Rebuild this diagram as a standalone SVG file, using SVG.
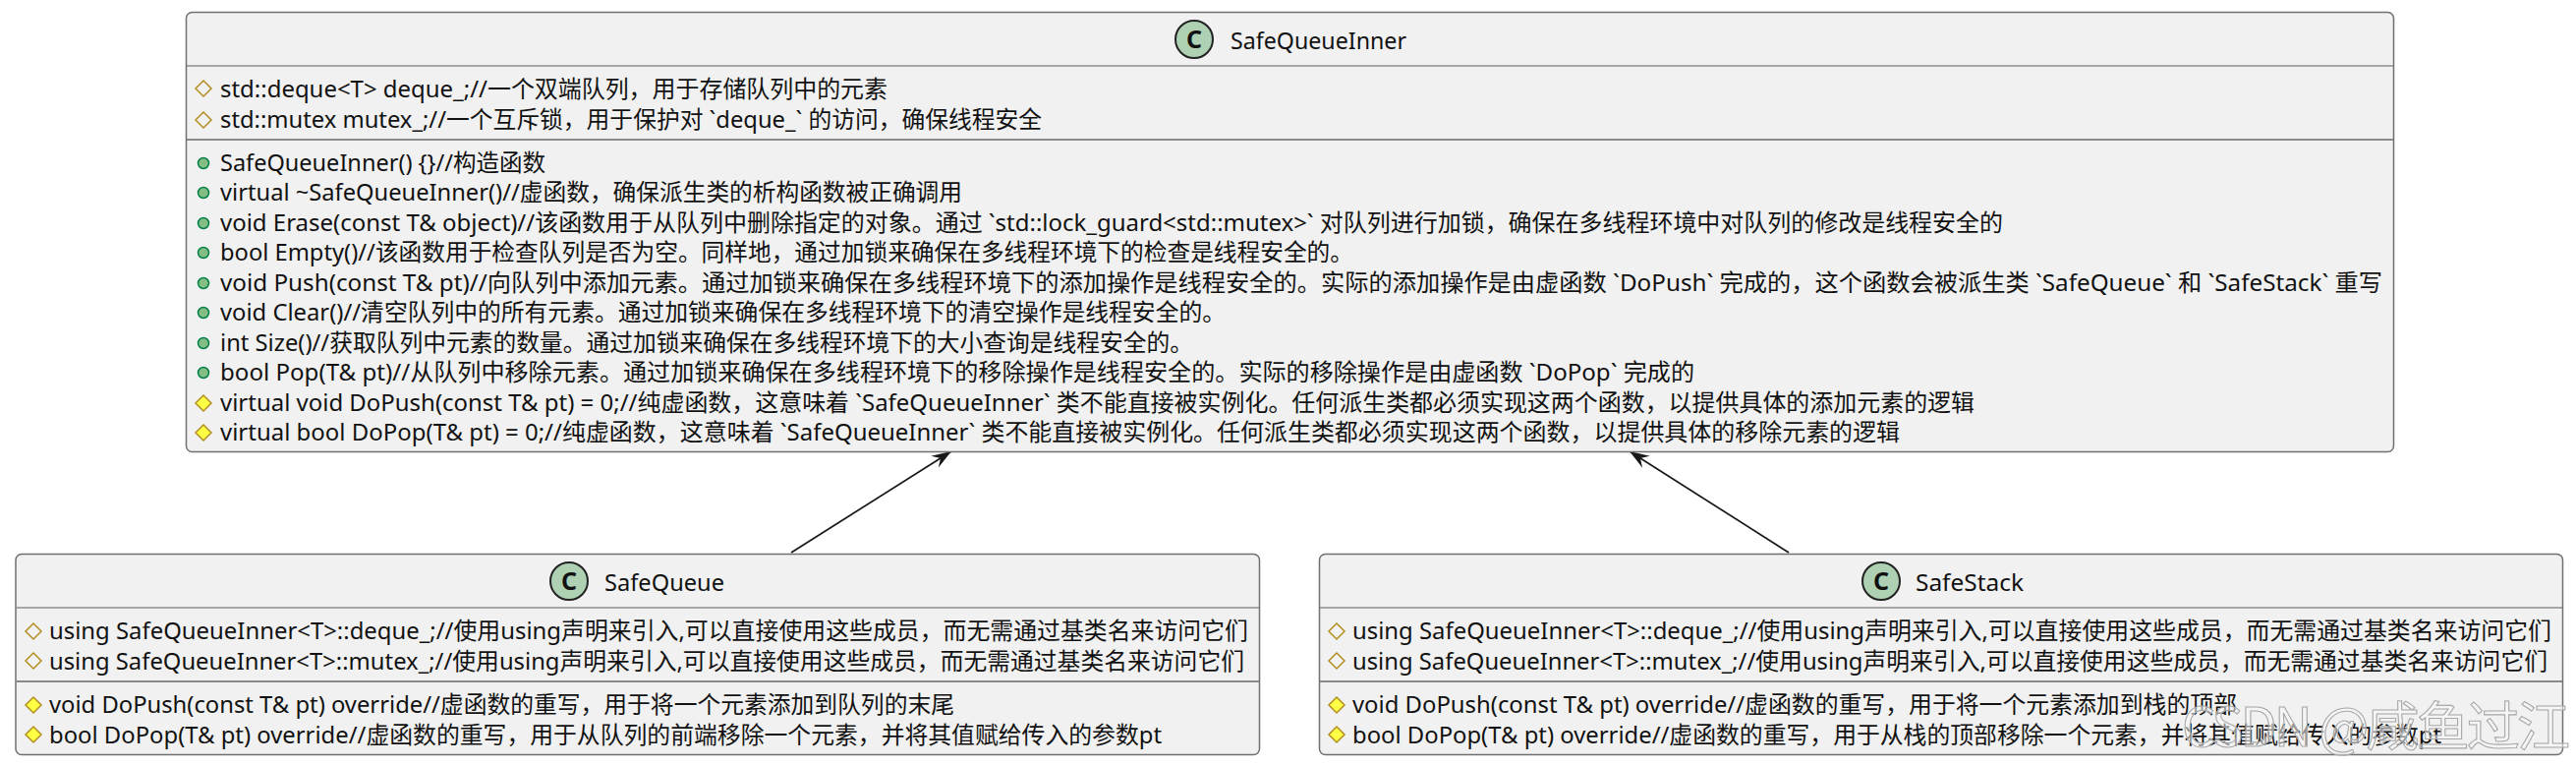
<svg xmlns="http://www.w3.org/2000/svg" width="2621" height="779" viewBox="0 0 2621 779">
<style>
.box{fill:#f1f1f1;stroke:#707070;stroke-width:1.5}
.sep{stroke:#5d5d5d;stroke-width:1.2}
.sep2{stroke:#8a8a8a;stroke-width:2}
.ci{fill:#add1b2;stroke:#222;stroke-width:2}
text{font-family:"Noto Sans","Noto Sans CJK SC",sans-serif;fill:#111}
.m{font-size:24px}
.t{font-size:24px}
.c{font-size:25px;font-weight:700;text-anchor:middle}
.pub{fill:#84be84;stroke:#038048;stroke-width:1.5}
.pa{fill:none;stroke:#b38d22;stroke-width:1.5}
.pm{fill:#ffff44;stroke:#b38d22;stroke-width:1.5}
.wm{font-size:54px;fill:#f8f8f8;fill-opacity:.55;stroke:#a8a8a8;stroke-width:1.1;font-family:"Noto Sans CJK SC",sans-serif}
.l{fill:none;stroke:#181818;stroke-width:1.7}
</style>
<defs>
<path id="di" d="M0 -8L8 0L0 8L-8 0Z"/>
<marker id="arr" viewBox="0 0 20 20" refX="20" refY="10" markerWidth="20" markerHeight="20" markerUnits="userSpaceOnUse" orient="auto"><path d="M0 3L20 10L0 17L7 10Z" fill="#181818"/></marker>
</defs>
<g id="connectors">
<path class="l" d="M805 562L968 459" marker-end="url(#arr)"/>
<path class="l" d="M1820 562L1658 459" marker-end="url(#arr)"/>
</g>
<g id="SafeQueueInner">
<rect class="box" x="189.500" y="12.500" width="2246" height="447" rx="6"/>
<line class="sep" x1="190" y1="67" x2="2435" y2="67"/>
<line class="sep2" x1="190" y1="142" x2="2435" y2="142"/>
<circle class="ci" cx="1215" cy="40" r="19"/>
<text class="c" x="1215" y="49">C</text>
<text class="t" x="1252" y="50" textLength="179" lengthAdjust="spacingAndGlyphs">SafeQueueInner</text>
<use href="#di" class="pa" x="207" y="90"/>
<text class="m" x="224" y="99" textLength="679" lengthAdjust="spacingAndGlyphs">std::deque&lt;T&gt; deque_;//一个双端队列，用于存储队列中的元素</text>
<use href="#di" class="pa" x="207" y="122"/>
<text class="m" x="224" y="130" textLength="836" lengthAdjust="spacingAndGlyphs">std::mutex mutex_;//一个互斥锁，用于保护对 `deque_` 的访问，确保线程安全</text>
<circle class="pub" cx="207" cy="166" r="5.500"/>
<text class="m" x="224" y="174" textLength="331" lengthAdjust="spacingAndGlyphs">SafeQueueInner() {}//构造函数</text>
<circle class="pub" cx="207" cy="196" r="5.500"/>
<text class="m" x="224" y="204" textLength="755" lengthAdjust="spacingAndGlyphs">virtual ~SafeQueueInner()//虚函数，确保派生类的析构函数被正确调用</text>
<circle class="pub" cx="207" cy="227" r="5.500"/>
<text class="m" x="224" y="235" textLength="1814" lengthAdjust="spacingAndGlyphs">void Erase(const T&amp; object)//该函数用于从队列中删除指定的对象。通过 `std::lock_guard&lt;std::mutex&gt;` 对队列进行加锁，确保在多线程环境中对队列的修改是线程安全的</text>
<circle class="pub" cx="207" cy="257" r="5.500"/>
<text class="m" x="224" y="265" textLength="1153" lengthAdjust="spacingAndGlyphs">bool Empty()//该函数用于检查队列是否为空。同样地，通过加锁来确保在多线程环境下的检查是线程安全的。</text>
<circle class="pub" cx="207" cy="288" r="5.500"/>
<text class="m" x="224" y="296" textLength="2200" lengthAdjust="spacingAndGlyphs">void Push(const T&amp; pt)//向队列中添加元素。通过加锁来确保在多线程环境下的添加操作是线程安全的。实际的添加操作是由虚函数 `DoPush` 完成的，这个函数会被派生类 `SafeQueue` 和 `SafeStack` 重写</text>
<circle class="pub" cx="207" cy="318" r="5.500"/>
<text class="m" x="224" y="326" textLength="1023" lengthAdjust="spacingAndGlyphs">void Clear()//清空队列中的所有元素。通过加锁来确保在多线程环境下的清空操作是线程安全的。</text>
<circle class="pub" cx="207" cy="349" r="5.500"/>
<text class="m" x="224" y="357" textLength="990" lengthAdjust="spacingAndGlyphs">int Size()//获取队列中元素的数量。通过加锁来确保在多线程环境下的大小查询是线程安全的。</text>
<circle class="pub" cx="207" cy="379" r="5.500"/>
<text class="m" x="224" y="387" textLength="1500" lengthAdjust="spacingAndGlyphs">bool Pop(T&amp; pt)//从队列中移除元素。通过加锁来确保在多线程环境下的移除操作是线程安全的。实际的移除操作是由虚函数 `DoPop` 完成的</text>
<use href="#di" class="pm" x="207" y="410"/>
<text class="m" x="224" y="418" textLength="1785" lengthAdjust="spacingAndGlyphs">virtual void DoPush(const T&amp; pt) = 0;//纯虚函数，这意味着 `SafeQueueInner` 类不能直接被实例化。任何派生类都必须实现这两个函数，以提供具体的添加元素的逻辑</text>
<use href="#di" class="pm" x="207" y="440"/>
<text class="m" x="224" y="448" textLength="1709" lengthAdjust="spacingAndGlyphs">virtual bool DoPop(T&amp; pt) = 0;//纯虚函数，这意味着 `SafeQueueInner` 类不能直接被实例化。任何派生类都必须实现这两个函数，以提供具体的移除元素的逻辑</text>
</g>
<g id="SafeQueue">
<rect class="box" x="16" y="563.500" width="1265.500" height="204" rx="6"/>
<line class="sep" x1="17" y1="618" x2="1281" y2="618"/>
<line class="sep2" x1="17" y1="693" x2="1281" y2="693"/>
<circle class="ci" cx="579" cy="591" r="19"/>
<text class="c" x="579" y="600">C</text>
<text class="t" x="615" y="601" textLength="122" lengthAdjust="spacingAndGlyphs">SafeQueue</text>
<use href="#di" class="pa" x="34" y="642"/>
<text class="m" x="50" y="650" textLength="1220" lengthAdjust="spacingAndGlyphs">using SafeQueueInner&lt;T&gt;::deque_;//使用using声明来引入,可以直接使用这些成员，而无需通过基类名来访问它们</text>
<use href="#di" class="pa" x="34" y="672"/>
<text class="m" x="50" y="681" textLength="1216" lengthAdjust="spacingAndGlyphs">using SafeQueueInner&lt;T&gt;::mutex_;//使用using声明来引入,可以直接使用这些成员，而无需通过基类名来访问它们</text>
<use href="#di" class="pm" x="34" y="717"/>
<text class="m" x="50" y="725" textLength="921" lengthAdjust="spacingAndGlyphs">void DoPush(const T&amp; pt) override//虚函数的重写，用于将一个元素添加到队列的末尾</text>
<use href="#di" class="pm" x="34" y="747"/>
<text class="m" x="50" y="756" textLength="1132" lengthAdjust="spacingAndGlyphs">bool DoPop(T&amp; pt) override//虚函数的重写，用于从队列的前端移除一个元素，并将其值赋给传入的参数pt</text>
</g>
<g id="SafeStack">
<rect class="box" x="1342.500" y="563.500" width="1265" height="204" rx="6"/>
<line class="sep" x1="1343" y1="618" x2="2607" y2="618"/>
<line class="sep2" x1="1343" y1="693" x2="2607" y2="693"/>
<circle class="ci" cx="1914" cy="591" r="19"/>
<text class="c" x="1914" y="600">C</text>
<text class="t" x="1949" y="601" textLength="110" lengthAdjust="spacingAndGlyphs">SafeStack</text>
<use href="#di" class="pa" x="1360" y="642"/>
<text class="m" x="1376" y="650" textLength="1220" lengthAdjust="spacingAndGlyphs">using SafeQueueInner&lt;T&gt;::deque_;//使用using声明来引入,可以直接使用这些成员，而无需通过基类名来访问它们</text>
<use href="#di" class="pa" x="1360" y="672"/>
<text class="m" x="1376" y="681" textLength="1216" lengthAdjust="spacingAndGlyphs">using SafeQueueInner&lt;T&gt;::mutex_;//使用using声明来引入,可以直接使用这些成员，而无需通过基类名来访问它们</text>
<use href="#di" class="pm" x="1360" y="717"/>
<text class="m" x="1376" y="725" textLength="900" lengthAdjust="spacingAndGlyphs">void DoPush(const T&amp; pt) override//虚函数的重写，用于将一个元素添加到栈的顶部</text>
<use href="#di" class="pm" x="1360" y="747"/>
<text class="m" x="1376" y="756" textLength="1108" lengthAdjust="spacingAndGlyphs">bool DoPop(T&amp; pt) override//虚函数的重写，用于从栈的顶部移除一个元素，并将其值赋给传入的参数pt</text>
</g>
<text class="wm" x="2220" y="759" textLength="395" lengthAdjust="spacing">CSDN @咸鱼过江</text>
</svg>
